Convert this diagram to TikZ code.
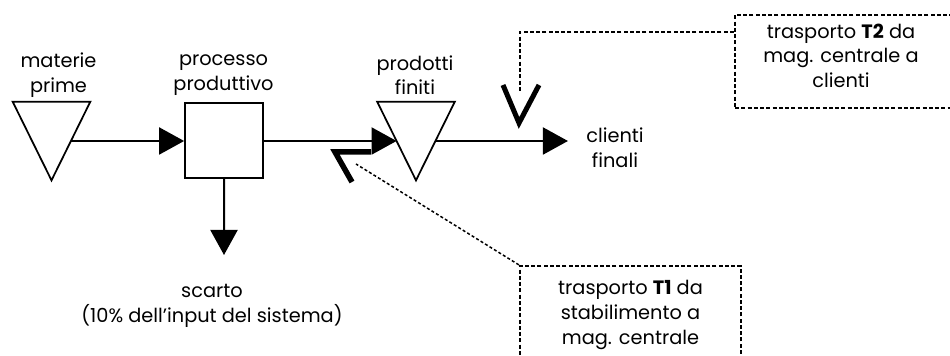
\documentclass[tikz,border=0pt]{standalone}
\usepackage{fontspec}
\setmainfont{Poppins}
\usetikzlibrary{arrows.meta,calc}

\begin{document}
\begin{tikzpicture}[scale=0.2,
  flow/.style={line width=0.04cm,-{Triangle[length=0.5cm,width=0.54cm]}},
  stock/.style={minimum width=1.54cm,minimum height=1.56cm},
  lbl/.style={align=center,font=\fontsize{11}{14}\selectfont},
  tbox/.style={draw,line width=0.045cm,dash pattern=on 0.08cm off 0.045cm,align=center,font=\fontsize{11}{14}\selectfont},
  leader/.style={line width=0.03cm,dash pattern=on 0.06cm off 0.045cm}]
\tikzstyle{every node}+=[inner sep=0pt]
\clip (0,0) rectangle (95,-35.6);
% magazzini e processo
\node[stock] (mp) at (5.15,-14.1) {};
\node[draw,line width=0.035cm,minimum width=1.56cm,minimum height=1.5cm] (proc) at (22.4,-14.05) {};
\node[stock] (pf) at (41.6,-14.1) {};
\foreach \s in {mp,pf}
  \draw[line width=0.035cm] (\s.north west) -- (\s.north east) -- (\s.south) -- cycle;
\node[lbl] (mplbl) at (5.85,-7.5) {materie\\prime};
\node[lbl] (proclbl) at (22.35,-7.5) {processo\\produttivo};
\node[lbl] (pflbl) at (41.5,-7.5) {prodotti\\finiti};
\node[lbl,inner xsep=0.36cm] (cf) at (61.5,-14.75) {clienti\\finali};
\node[lbl] (sc) at (21.2,-30.6) {scarto\\(10\% dell'input del sistema)};
% flussi
\coordinate (mpout) at ($(mp.north east)!.5!(mp.south)$);
\coordinate (pfin) at ($(pf.north west)!.5!(pf.south)$);
\coordinate (pfout) at ($(pf.north east)!.5!(pf.south)$);
\coordinate (sctip) at (22.4,-25.5);
\draw[flow] (mpout) -- (mpout -| proc.west);
\draw[flow] (proc.east |- pfin) -- (pfin);
\draw[flow] (pfout) -- (pfout -| cf.west);
\draw[flow] (proc) -- (sctip);
% trasporti
\node[tbox,minimum width=4.44cm,minimum height=1.86cm] (t2) at (84.6,-6.15) {};
\node[lbl] (t2txt) at (84.1,-5.55) {trasporto \textbf{T2} da\\mag. centrale a\\clienti};
\node[tbox,minimum width=4.42cm,minimum height=1.96cm] (t1) at (63.05,-31.5) {trasporto \textbf{T1} da\\stabilimento a\\mag. centrale};
\coordinate (vtop) at (52.0,-9.2);
\coordinate (zig) at (35.6,-16.4);
\draw[leader,line width=0.045cm,dash pattern=on 0.08cm off 0.045cm] ($(t2.north west)+(0,-1.8)$) -| (vtop);
\draw[leader] (t1.north west) -- (zig);
\draw[line width=0.1cm] (50.3,-8.5) -- (51.9,-12.3) -- (53.9,-8.5);
\draw[line width=0.11cm] (35.2,-18.2) -- (33.5,-15.2) -- (37.1,-15.2);
\end{tikzpicture}
\end{document}
